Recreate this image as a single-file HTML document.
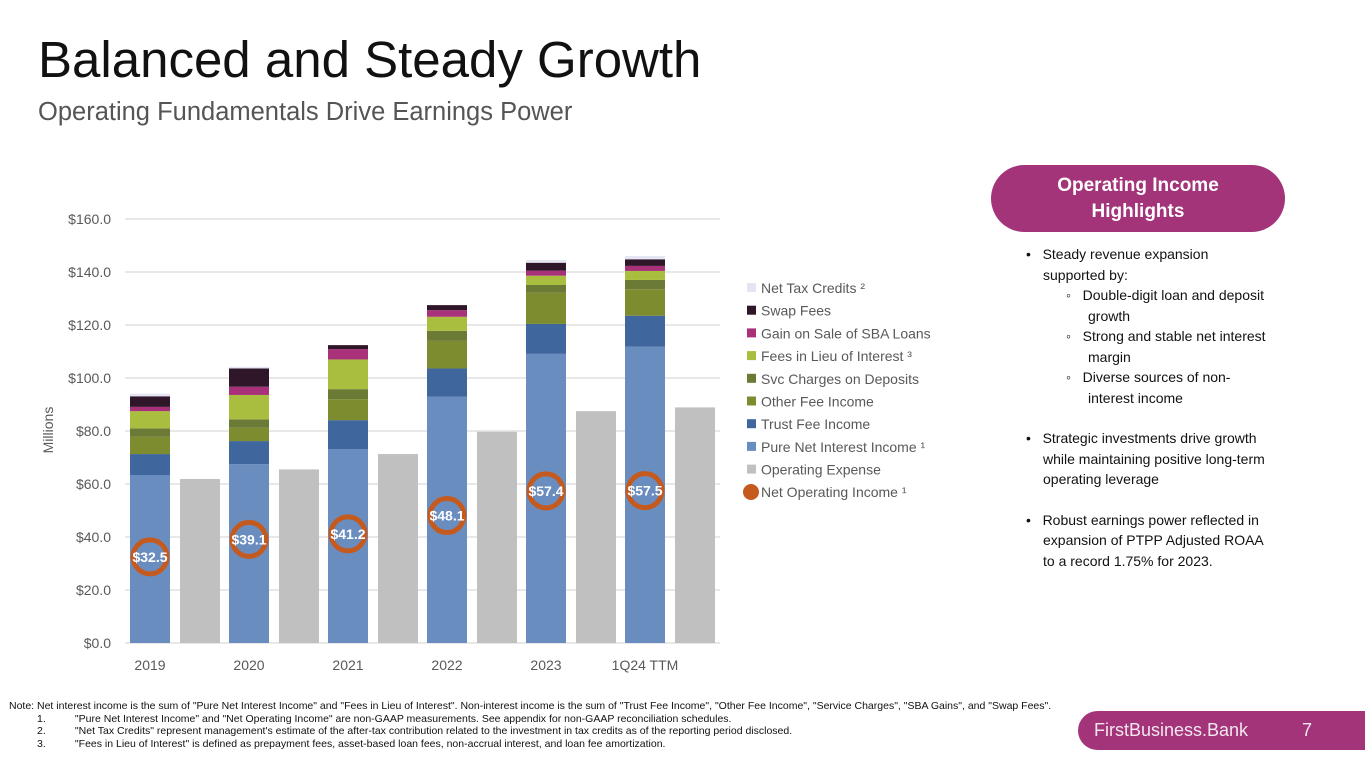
<!DOCTYPE html>
<html><head><meta charset="utf-8"><style>
body{margin:0;width:1365px;height:768px;overflow:hidden;background:#fff;font-family:"Liberation Sans",sans-serif;position:relative}
.a{position:absolute}
</style></head><body>
<div class="a" style="left:38px;top:30px;font-size:51px;color:#111;">Balanced and Steady Growth</div>
<div class="a" style="left:38px;top:98px;font-size:25.5px;color:#555;">Operating Fundamentals Drive Earnings Power</div>
<svg class="a" style="left:0;top:0" width="1000" height="700" id="chart"></svg>
<div class="a" style="left:991px;top:165px;width:294px;height:67px;border-radius:34px;background:#a3347a;color:#fff;font-weight:bold;font-size:19px;text-align:center;line-height:26px;display:flex;align-items:center;justify-content:center;">Operating Income<br>Highlights</div>
<div class="a" style="left:1026px;top:244px;width:240px;font-size:14px;line-height:20.5px;color:#111;">
<div style="padding-left:17px;text-indent:-17px">•&nbsp;&nbsp;&nbsp;Steady revenue expansion supported by:</div>
<div style="padding-left:62px;text-indent:-22px">◦&nbsp;&nbsp;&nbsp;Double-digit loan and deposit growth</div>
<div style="padding-left:62px;text-indent:-22px">◦&nbsp;&nbsp;&nbsp;Strong and stable net interest margin</div>
<div style="padding-left:62px;text-indent:-22px">◦&nbsp;&nbsp;&nbsp;Diverse sources of non-interest income</div>
<div style="height:20px"></div>
<div style="padding-left:17px;text-indent:-17px">•&nbsp;&nbsp;&nbsp;Strategic investments drive growth while maintaining positive long-term operating leverage</div>
<div style="height:20px"></div>
<div style="padding-left:17px;text-indent:-17px">•&nbsp;&nbsp;&nbsp;Robust earnings power reflected in expansion of PTPP Adjusted ROAA to a record 1.75% for 2023.</div>
</div>
<div class="a" style="left:9px;top:700px;font-size:10.5px;line-height:12.5px;color:#111;white-space:nowrap;">
<div>Note: Net interest income is the sum of "Pure Net Interest Income" and "Fees in Lieu of Interest". Non-interest income is the sum of "Trust Fee Income", "Other Fee Income", "Service Charges", "SBA Gains", and "Swap Fees".</div>
<div style="padding-left:28px">1.&nbsp;&nbsp;&nbsp;&nbsp;&nbsp;&nbsp;&nbsp;&nbsp;&nbsp;&nbsp;"Pure Net Interest Income" and "Net Operating Income" are non-GAAP measurements. See appendix for non-GAAP reconciliation schedules.</div>
<div style="padding-left:28px">2.&nbsp;&nbsp;&nbsp;&nbsp;&nbsp;&nbsp;&nbsp;&nbsp;&nbsp;&nbsp;"Net Tax Credits" represent management's estimate of the after-tax contribution related to the investment in tax credits as of the reporting period disclosed.</div>
<div style="padding-left:28px">3.&nbsp;&nbsp;&nbsp;&nbsp;&nbsp;&nbsp;&nbsp;&nbsp;&nbsp;&nbsp;"Fees in Lieu of Interest" is defined as prepayment fees, asset-based loan fees, non-accrual interest, and loan fee amortization.</div>
</div>
<div class="a" style="left:1078px;top:711px;width:300px;height:39px;border-radius:20px 0 0 20px;background:#a3347a;color:#f3e6ef;font-size:18px;line-height:39px;">
<span style="position:absolute;left:16px">FirstBusiness.Bank</span><span style="position:absolute;left:224px">7</span></div>
<script>
const categories=["2019","2020","2021","2022","2023","1Q24 TTM"];
const pureNII=[63.4,67.5,73.2,92.9,109.1,111.8];
const trustFee=[7.9,8.7,10.9,10.7,11.3,11.7];
const otherFee=[6.5,5.0,7.9,10.4,11.8,10.0];
const svcCharges=[3.2,3.2,3.8,3.8,2.9,3.5];
const feesInLieu=[6.5,9.2,11.2,5.3,3.5,3.4];
const sbaGains=[1.6,3.1,3.9,2.5,1.9,1.9];
const swapFees=[4.0,6.9,1.5,1.9,3.0,2.5];
const netTaxCredits=[1.0,0.6,0.0,0.0,1.0,1.2];
const opExpense=[61.9,65.5,71.3,79.7,87.5,88.9];
const netOpIncome=[32.5,39.1,41.2,48.1,57.4,57.5];
const yTicks=[0,20,40,60,80,100,120,140,160];
const NS="http://www.w3.org/2000/svg";
const svg=document.getElementById('chart');
const y0=643,ppu=424/160;
const yS=v=>y0-v*ppu;
const xS=i=>130+i*99;
function mk(t,a){const e=document.createElementNS(NS,t);for(const k in a)e.setAttribute(k,a[k]);svg.appendChild(e);return e;}
yTicks.forEach(v=>{
 const l=mk('line',{x1:125,x2:720,y1:yS(v),y2:yS(v),stroke:'#d9d9d9','stroke-width':1.3});
 
 
 const t=mk('text',{x:111,y:yS(v)+5,'text-anchor':'end','font-size':14,fill:'#595959','font-family':'Liberation Sans, sans-serif'});
 t.textContent='$'+v.toFixed(1);
 
 
});
const yt=mk('text',{transform:'translate(53,430) rotate(-90)','text-anchor':'middle','font-size':14,fill:'#595959','font-family':'Liberation Sans, sans-serif'});
yt.textContent='Millions';


const series=[[pureNII,'#6a8dc0','pure-nii'],[trustFee,'#3f679e','trust-fee'],[otherFee,'#7c8c2e','other-fee'],[svcCharges,'#6b7a35','svc-charges'],[feesInLieu,'#a9bd3e','fees-in-lieu'],[sbaGains,'#a8317a','sba-gains'],[swapFees,'#2f1628','swap-fees'],[netTaxCredits,'#e4e4f2','net-tax-credits']];
categories.forEach((c,i)=>{
 let cum=0;
 series.forEach(s=>{
  const v=s[0][i];
  const r=mk('rect',{x:xS(i),width:40,y:yS(cum+v),height:v*ppu,fill:s[1]});
  
  
  cum+=v;
 });
 const o=mk('rect',{x:xS(i)+50,width:40,y:yS(opExpense[i]),height:opExpense[i]*ppu,fill:'#c0c0c0'});
 
 
 const cy=yS(netOpIncome[i]);
 const ci=mk('circle',{cx:xS(i)+20,cy:cy,r:17,fill:'none',stroke:'#c55a1e','stroke-width':5});
 
 
 const nt=mk('text',{x:xS(i)+20,y:cy+5,'text-anchor':'middle','font-size':14,'font-weight':'bold',fill:'#fff','font-family':'Liberation Sans, sans-serif'});
 nt.textContent='$'+netOpIncome[i].toFixed(1);
 
 
 const ct=mk('text',{x:xS(i)+20,y:670,'text-anchor':'middle','font-size':14,fill:'#595959','font-family':'Liberation Sans, sans-serif'});
 ct.textContent=c;
 
 
});
const legend=[['Net Tax Credits ²','#e4e4f2'],['Swap Fees','#2f1628'],['Gain on Sale of SBA Loans','#a8317a'],['Fees in Lieu of Interest ³','#a9bd3e'],['Svc Charges on Deposits','#6b7a35'],['Other Fee Income','#7c8c2e'],['Trust Fee Income','#3f679e'],['Pure Net Interest Income ¹','#6a8dc0'],['Operating Expense','#c0c0c0']];
legend.forEach((l,k)=>{
 const y=288+k*22.7;
 const r=mk('rect',{x:747,y:y-5,width:9,height:9,fill:l[1]});
 
 
 const t=mk('text',{x:761,y:y+5,'font-size':14,fill:'#595959','font-family':'Liberation Sans, sans-serif'});
 t.textContent=l[0];
 
 
});
const lc=mk('circle',{cx:751,cy:492,r:8,fill:'#c55a1e'});


const lt=mk('text',{x:761,y:497,'font-size':14,fill:'#595959','font-family':'Liberation Sans, sans-serif'});
lt.textContent='Net Operating Income ¹';


</script>
</body></html>
